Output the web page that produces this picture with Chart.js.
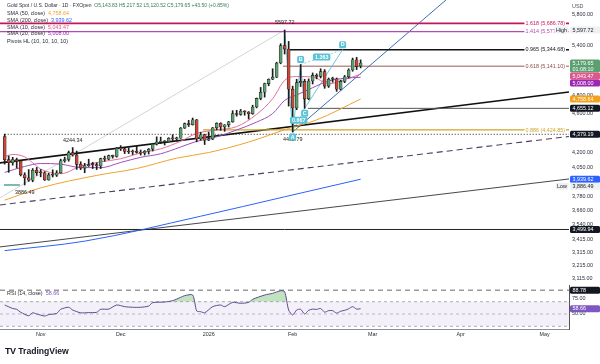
<!DOCTYPE html>
<html>
<head>
<meta charset="utf-8">
<title>Gold Spot / U.S. Dollar</title>
<script src="https://cdn.jsdelivr.net/npm/chart.js@4.4.1/dist/chart.umd.min.js"></script>
<style>
  body { margin:0; background:#fff; }
  #wrap { position:relative; width:600px; height:364px; overflow:hidden; background:#fff;
          font-family:"Liberation Sans", Arial, sans-serif; }
  canvas { position:absolute; left:0; }
  #price { top:0; }
  #rsi { top:285px; }
  .leg { position:absolute; left:7px; font-size:5.4px; color:#2a2e39; white-space:nowrap; line-height:7px; }
  #logo { position:absolute; left:5px; top:346px; font-size:8.6px; font-weight:bold; color:#131722; white-space:nowrap; }
  #logo b { font-size:9px; letter-spacing:-0.6px; margin-right:3px; }
</style>
</head>
<body>
<div id="wrap">
  <canvas id="price" width="600" height="285"></canvas>
  <canvas id="rsi" width="600" height="56"></canvas>
  <div class="leg" style="top:1.5px;font-size:5px">Gold Spot / U.S. Dollar · 1D · FXOpen&nbsp;&nbsp;<span style="color:#2f7d55">O5,143.83 H5,217.52 L5,120.52 C5,179.65 +43.50 (+0.85%)</span></div>
  <div class="leg" style="top:9.8px">SMA (50, close)&nbsp;&nbsp;<span style="color:#f0a030">4,758.64</span></div>
  <div class="leg" style="top:16.5px">SMA (200, close)&nbsp;&nbsp;<span style="color:#2962ff">3,939.62</span></div>
  <div class="leg" style="top:23.5px">SMA (10, close)&nbsp;&nbsp;<span style="color:#e0528a">5,043.47</span></div>
  <div class="leg" style="top:30.2px">SMA (20, close)&nbsp;&nbsp;<span style="color:#9c27b0">5,008.00</span></div>
  <div class="leg" style="top:37.5px">Pivots HL (10, 10, 10, 10)</div>
  <div class="leg" style="top:289.5px">RSI (14, close)&nbsp;&nbsp;<span style="color:#7e57c2">58.66</span></div>
  <div id="logo"><b>TV</b>TradingView</div>
</div>
<script>
// ---------------- data (daily bars, index 0 = 21 Oct 2025) ----------------
const open  = [4356,4125,4095,4126,4112,3981,3953,3930,4024,4002, 4000,3932,3980,3977,4000,4115,4127,4194,4171,4080,
               4044,4066,4078,4077,4065,4135,4130,4164,4157,4239, 4231,4206,4200,4208,4197,4190,4208,4229,4279,4300,
               4305,4303,4338,4332,4339,4444,4490,4479,4532,4331, 4374,4319,4330,4447,4495,4455,4478,4510,4598,4588,
               4625,4615,4596,4670,4765,4835,4935,4985,5010,5180, 5395,5352,4870,4660,4945,4960,4760,4965,5030,5020,
               5075,4905,4985,4990,4870,4960,5015,5095,5220,5143.83];
const high  = [4381,4161,4148,4140,4115,4000,4030,4040,4050,4030, 4010,3995,4028,4020,4130,4150,4210,4244.34,4210,4105,
               4090,4130,4100,4095,4140,4160,4170,4170,4245,4264, 4240,4241,4220,4259,4220,4215,4235,4285,4353,4350,
               4315,4345,4375,4350,4450,4497,4525,4550,4535,4400, 4380,4402,4450,4500,4500,4480,4515,4630,4634,4643,
               4630,4620,4690,4770,4890,4940,4990,5110,5190,5420, 5597.72,5450,4905,4985,5161,4985,4990,5060,5050,5110,
               5100,5000,5010,5000,4975,5030,5110,5240,5250,5217.52];
const low   = [4082,4004,4072,4045,3970,3886.49,3920,3916,3975,3962, 3928,3930,3960,3965,3995,4100,4110,4160,4032,4030,
               4000,4060,4040,4030,4040,4110,4125,4140,4150,4215, 4185,4185,4175,4190,4170,4170,4180,4210,4270,4285,
               4270,4300,4310,4310,4338,4440,4460,4475,4302,4320, 4275,4315,4325,4425,4420,4410,4455,4505,4570,4580,
               4580,4540,4590,4660,4750,4780,4910,4980,5005,5170, 5290,4680,4402.79,4640,4900,4655.12,4750,4930,4990,5000,
               4880,4890,4950,4845,4860,4945,5000,5080,5100,5120.52];
const close = [4125,4095,4126,4112,3981,3953,3930,4024,4002,4000, 3932,3980,3977,4000,4115,4127,4194,4171,4080,4044,
               4066,4078,4077,4065,4135,4130,4164,4157,4239,4231, 4206,4200,4208,4197,4190,4208,4229,4279,4300,4305,
               4303,4338,4332,4339,4444,4490,4479,4532,4331,4374, 4319,4330,4447,4495,4455,4478,4510,4598,4588,4625,
               4615,4596,4670,4765,4835,4935,4985,5010,5180,5395, 5352,4870,4660,4945,4960,4760,4965,5030,5020,5075,
               4905,4985,4990,4870,4960,5015,5095,5220,5136.15,5179.65];

// moving averages at a few bars
const sma10Idx = [0,2,5,7,9,14,19,24,29,34,39,44,48,53,58,63,67,70,73,77,81,85,89];
const sma10Val = [4155,4176,4153,4095,4035,3991,4062,4104,4134,4192,4232,4308,4389,4424,4459,4590,4762,4972,5017,5012,4931,4982,5043.47];
const sma20Idx = [0,5,9,14,19,24,29,34,39,44,48,53,58,63,67,70,73,77,81,85,89];
const sma20Val = [4003,4060,4088,4082,4049,4048,4098,4148,4183,4250,4307,4353,4424,4507,4598,4743,4804,4887,4965,4997,5008.00];
const sma50Idx = [0,9,23,33,43,51,61,71,78,89];
const sma50Val = [3750,3860,3975,4040,4140,4195,4300,4440,4530,4758.64];
const sma200Idx = [0,20,49,70,89];
const sma200Val = [3330,3405,3611,3780,3939.62];

// RSI (14)
const rsiIdx = [0,2,3,4,6,7,8,10,11,13,14,16,17,19,21,23,24,26,28,30,32,34,36,37,40,42,44,45,47,48,49,50,52,54,55,57,59,61,62,65,67,69,70,71,72,73,74,75,76,77,78,79,80,81,82,83,84,85,86,87,88,89];
const rsiVal = [64.7,59,57.7,52.8,47.2,52,50,46.7,49,51,57.7,61,56.5,52,52.3,52.8,57.7,58,64.7,62,61,61,63,68.5,69.6,71.8,77.3,80,81,55,53.8,52,62,64.7,62,69,67.5,69,74,81,83.8,88,86.5,56.5,48.4,56.5,57.7,50,56,58,57.5,59,53,55.5,55.5,51.5,54.5,56,58.5,62,58,58.66];

// axis ticks
const priceTicks = [5800,5400,4800,4600,4200,4050,3780,3660,3540,3415,3315,3215,3115];
const rsiTicks = [75,50];
const monthIdx = [9,29,51,72,92,114,135];
const monthLbl = ['Nov','Dec','2026','Feb','Mar','Apr','May'];

// drawn levels: value, first bar, label
const levelVal  = [5686.78,5577.40,5344.68,5141.10,4424.85,4655.12,4379.19,3499.94];
const levelFrom = [-1.2,-1.2,71.3,69.6,49.6,75.8,0,-1.2];
const levelText = ['1.618 (5,686.78)','1.414 (5,577.40)','0.965 (5,344.68)','0.618 (5,141.10)','0.886 (4,424.85)','','',''];

// trend lines [bar, price] -> [bar, price]
const trendLines = [
  [[-1.2,4094],[141.1,4838]],
  [[-1.2,3708],[141.1,4357]],
  [[-1.2,3359],[141.1,3942]],
  [[72,4402.79],[112.2,6100]],
  [[-1.2,3770],[70,5597.72]]
];
// pivots
const pivIdx = [70,17,5,72];
const pivVal = [5597.72,4244.34,3886.49,4402.79];
// XABCD
const patIdx = [70,72,74,75,84.5];
const patVal = [5597.72,4402.79,5161,4655.12,5344.68];
const patName = ['','A','B','C','D'];
const patRatio = ['0.667','1.363'];
// axis tags
const tagVal = [5597.72,5179.65,5043.47,5008.00,4758.64,4655.12,4379.19,3939.62,3886.49,3499.94];
const rsiTagVal = [88.78,58.66];

// ---------------- styles ----------------
const up = '#5c9f70', dn = '#c64a3b';
const levelStyle = [
  {c:'#c2185b', w:1.6}, {c:'#b04cb3', w:1.2}, {c:'#131313', w:1.5}, {c:'#8b4a43', w:0.9},
  {c:'#cfa52a', w:1.1}, {c:'#555', w:1}, {c:'#222', w:1, d:[1,2]}, {c:'#222', w:1}
];
const trendStyle = [
  {c:'#111', w:1.6}, {c:'#4f3f62', w:1.1, d:[6,4]}, {c:'#333', w:0.9}, {c:'#3e6db3', w:1}, {c:'#d4d4d4', w:1}
];
const tagStyle = [
  {bg:'#eef0f3', fg:'#222', pre:'High'}, {bg:'#5c9f70', fg:'#fff', sub:'01:08:10'}, {bg:'#e0568a', fg:'#fff'},
  {bg:'#9c27b0', fg:'#fff'}, {bg:'#f5a11c', fg:'#fff'}, {bg:'#131722', fg:'#fff'}, {bg:'#131722', fg:'#fff'},
  {bg:'#2962ff', fg:'#fff'}, {bg:'#eef0f3', fg:'#222', pre:'Low'}, {bg:'#131722', fg:'#fff'}
];
const FONT = '5.4px "Liberation Sans", Arial, sans-serif';
const xMin = -1.175, xMax = 141.1;
const fmt = v => v.toLocaleString('en-US', {minimumFractionDigits:2, maximumFractionDigits:2});

Chart.defaults.font.family = '"Liberation Sans", Arial, sans-serif';
Chart.defaults.animation = false;

function seg(pts, c, w, d, order) {
  return {type:'line', data: pts.map(p => ({x:p[0], y:p[1]})), borderColor:c, borderWidth:w,
          borderDash:d || [], pointRadius:0, fill:false, tension:0, clip:0, order: order || 6};
}
function curve(idx, val, c, w) {
  return {type:'line', data: idx.map((v,i) => ({x:v, y:val[i]})), borderColor:c, borderWidth:w,
          pointRadius:0, fill:false, cubicInterpolationMode:'monotone', clip:0, order:3};
}

const candleCol = close.map((c,i) => c >= open[i] ? up : dn);
const datasets = [
  {type:'bar', data: open.map((o,i) => ({x:i, y:[low[i], high[i]]})), backgroundColor:'#1c1c1c',
   barThickness:1, grouped:false, order:1},
  {type:'bar', data: open.map((o,i) => ({x:i, y:[o, close[i]]})), backgroundColor:candleCol,
   borderColor:'#1c1c1c', borderWidth:0.6, borderSkipped:false, barThickness:3, minBarLength:1, grouped:false, order:0}
];
levelVal.forEach((v,i) => {
  const s = levelStyle[i];
  datasets.push(seg([[levelFrom[i], v], [xMax, v]], s.c, s.w, s.d, 6));
});
trendLines.forEach((l,i) => {
  const s = trendStyle[i];
  datasets.push(seg(l, s.c, s.w, s.d, 7));
});
datasets.push(seg([[-0.2,3886.49],[3.8,3886.49]], '#2a8c82', 1.2, null, 6));
// XABCD legs
const pp = patIdx.map((v,i) => [v, patVal[i]]);
datasets.push(seg(pp, '#6cc6da', 1, null, 5));
datasets.push(seg([pp[1], pp[3]], '#6cc6da', 0.8, [2,2], 5));
datasets.push(seg([pp[2], pp[4]], '#6cc6da', 0.8, [2,2], 5));
datasets.push(curve(sma200Idx, sma200Val, '#2962ff', 1));
datasets.push(curve(sma50Idx, sma50Val, '#f0a030', 1));
datasets.push(curve(sma20Idx, sma20Val, '#9c4fc0', 1));
datasets.push(curve(sma10Idx, sma10Val, '#e0709a', 1));

function box(ctx, x, y, w, h, bg) {
  ctx.fillStyle = bg;
  ctx.beginPath();
  if (ctx.roundRect) ctx.roundRect(x, y, w, h, 1.5); else ctx.rect(x, y, w, h);
  ctx.fill();
}

function drawTags(ctx, scale, vals, styles, left) {
  const items = vals.map((v,i) => ({v, s:styles[i], y:scale.getPixelForValue(v)}))
                    .sort((a,b) => a.y - b.y);
  let prev = -99;
  items.forEach(it => {
    const h = it.s.sub ? 13 : 7;
    let top = it.y - 3.5;
    if (top < prev) top = prev;
    prev = top + h;
    box(ctx, left, top, 600 - left, h, it.s.bg);
    ctx.fillStyle = it.s.fg;
    ctx.textAlign = 'left';
    ctx.textBaseline = 'middle';
    ctx.fillText(fmt(it.v), left + 2.5, top + 3.7);
    if (it.s.sub) ctx.fillText(it.s.sub, left + 2.5, top + 9.8);
    if (it.s.pre) {
      const w = ctx.measureText(it.s.pre).width + 3;
      box(ctx, left - w - 1.5, top, w, 7, '#eef0f3');
      ctx.fillStyle = '#222';
      ctx.fillText(it.s.pre, left - w, top + 3.7);
    }
  });
}

const overlay = {
  id: 'overlay',
  afterDatasetsDraw(ch) {
    const {ctx, scales:{x, y}, chartArea:a} = ch;
    ctx.save();
    ctx.font = FONT;
    // fib texts
    ctx.textAlign = 'right';
    ctx.textBaseline = 'middle';
    levelVal.forEach((v,i) => {
      if (!levelText[i]) return;
      const py = y.getPixelForValue(v);
      const w = ctx.measureText(levelText[i]).width;
      ctx.fillStyle = '#fff';
      ctx.fillRect(a.right - 4 - w - 1, py - 3, w + 2, 6);
      ctx.fillStyle = levelStyle[i].c;
      ctx.fillText(levelText[i], a.right - 4, py + 0.3);
    });
    // pivots
    ctx.textAlign = 'center';
    ctx.fillStyle = '#222';
    pivIdx.forEach((b,i) => {
      const hi = high[b] === pivVal[i];
      ctx.fillText(String(pivVal[i].toFixed(2)), x.getPixelForValue(b), y.getPixelForValue(pivVal[i]) + (hi ? -7.5 : 7.5));
    });
    // pattern labels
    ctx.font = 'bold ' + FONT;
    patName.forEach((n,i) => {
      if (!n) return;
      const px = x.getPixelForValue(patIdx[i]);
      const hiPt = i % 2 === 0;
      const py = y.getPixelForValue(patVal[i]) + (hiPt ? -5 : 5);
      box(ctx, px - 3.5, py - 3.5, 7, 7, '#5cc3d6');
      ctx.fillStyle = '#fff';
      ctx.fillText(n, px, py + 0.3);
    });
    [[1,3],[2,4]].forEach((p,k) => {
      const px = (x.getPixelForValue(patIdx[p[0]]) + x.getPixelForValue(patIdx[p[1]])) / 2;
      const py = (y.getPixelForValue(patVal[p[0]]) + y.getPixelForValue(patVal[p[1]])) / 2;
      const w = ctx.measureText(patRatio[k]).width + 4;
      box(ctx, px - w/2, py - 3.5, w, 7, '#5cc3d6');
      ctx.fillStyle = '#fff';
      ctx.fillText(patRatio[k], px, py + 0.3);
    });
    ctx.font = FONT;
    drawTags(ctx, y, tagVal, tagStyle, a.right + 1);
    ctx.fillStyle = '#555';
    ctx.textAlign = 'left';
    ctx.fillText('USD', a.right + 3, 7);
    ctx.restore();
  }
};

new Chart(document.getElementById('price'), {
  type: 'bar',
  data: { datasets },
  options: {
    responsive: false, devicePixelRatio: 1,
    layout: { padding: 0 },
    plugins: { legend: {display:false}, tooltip: {enabled:false} },
    scales: {
      x: { type:'linear', min:xMin, max:xMax, display:false, offset:false },
      y: { type:'logarithmic', position:'right', min:3071, max:6008,
           afterBuildTicks: s => { s.ticks = priceTicks.map(v => ({value:v})); },
           afterFit: s => { s.width = 31; s.paddingTop = 0; s.paddingBottom = 0; },
           grid: {display:false, drawTicks:false}, border: {display:false},
           ticks: { font:{size:5.4}, color:'#2a2e39', padding:3, autoSkip:false, callback: v => fmt(v) } }
    }
  },
  plugins: [overlay]
});

// ---------------- RSI panel ----------------
const rsiOverlay = {
  id: 'rsiOverlay',
  afterDatasetsDraw(ch) {
    const {ctx, scales:{y}, chartArea:a} = ch;
    ctx.save();
    ctx.font = FONT;
    drawTags(ctx, y, rsiTagVal, [{bg:'#131722', fg:'#fff'}, {bg:'#7e57c2', fg:'#fff'}], a.right + 1);
    ctx.restore();
  }
};

new Chart(document.getElementById('rsi'), {
  type: 'line',
  data: { datasets: [
    {data:[{x:xMin,y:70},{x:xMax,y:70}], borderColor:'#9a9ca3', borderWidth:0.8, borderDash:[3,3],
     pointRadius:0, fill:'+1', backgroundColor:'rgba(126,87,194,0.09)', order:5},
    {data:[{x:xMin,y:30},{x:xMax,y:30}], borderColor:'#9a9ca3', borderWidth:0.8, borderDash:[3,3], pointRadius:0, fill:false, order:5},
    {data:[{x:xMin,y:50},{x:xMax,y:50}], borderColor:'#b0b2b8', borderWidth:0.8, borderDash:[3,3], pointRadius:0, fill:false, order:5},
    {data:[{x:xMin,y:rsiTagVal[0]},{x:xMax,y:rsiTagVal[0]}], borderColor:'#9a9a9a', borderWidth:1.6, borderDash:[5,4], pointRadius:0, fill:false, order:4},
    {data: rsiIdx.map((v,i) => ({x:v, y:rsiVal[i]})), borderColor:'#5b4a8a', borderWidth:1, pointRadius:0,
     tension:0.25, fill:{target:{value:70}, above:'rgba(76,175,80,0.35)', below:'rgba(0,0,0,0)'}, order:1}
  ]},
  options: {
    responsive: false, devicePixelRatio: 1,
    layout: { padding: 0 },
    plugins: { legend:{display:false}, tooltip:{enabled:false} },
    scales: {
      x: { type:'linear', min:xMin, max:xMax,
           afterBuildTicks: s => { s.ticks = monthIdx.map(v => ({value:v})); },
           afterFit: s => { s.height = 12; s.paddingLeft = 0; s.paddingRight = 0; },
           grid:{display:false, drawTicks:false}, border:{display:true, color:'#8a8d94', width:1},
           ticks:{ font:{size:5.4}, color:'#2a2e39', padding:2, autoSkip:false, maxRotation:0,
                   callback: (v, i) => monthLbl[i] } },
      y: { type:'linear', position:'right', min:25.5, max:97.4,
           afterBuildTicks: s => { s.ticks = rsiTicks.map(v => ({value:v})); },
           afterFit: s => { s.width = 31; s.paddingTop = 0; s.paddingBottom = 0; },
           grid:{display:false, drawTicks:false}, border:{display:true, color:'#555', width:1},
           ticks:{ font:{size:5.4}, color:'#2a2e39', padding:3, callback: v => v.toFixed(2) } }
    }
  },
  plugins: [rsiOverlay]
});
</script>
</body>
</html>
